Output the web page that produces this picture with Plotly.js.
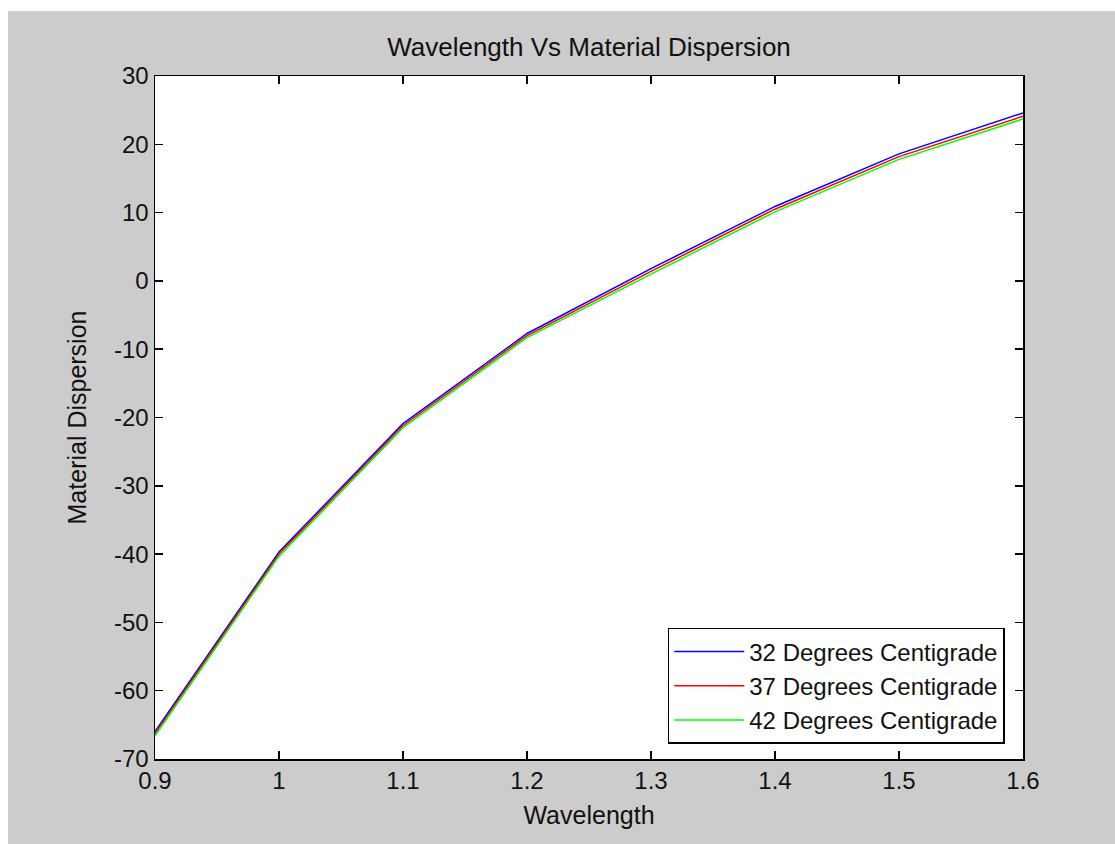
<!DOCTYPE html>
<html>
<head>
<meta charset="utf-8">
<script src="https://cdn.plot.ly/plotly-3.0.1.min.js"></script>
<style>
html,body{margin:0;padding:0;background:#ffffff;}
#chart{position:absolute;left:8px;top:11px;width:1107px;height:833px;}
</style>
</head>
<body>
<div id="chart"></div>
<script>
const wavelength = [0.9, 1.0, 1.1, 1.2, 1.3, 1.4, 1.5, 1.6];
const disp32 = [-66.0, -39.7, -20.9, -7.7, 1.8, 10.9, 18.6, 24.6];
const disp37 = [-66.3, -40.0, -21.2, -8.0, 1.4, 10.5, 18.2, 24.1];
const disp42 = [-66.6, -40.3, -21.5, -8.3, 1.0, 10.1, 17.8, 23.7];
const seriesNames = ['32 Degrees Centigrade', '37 Degrees Centigrade', '42 Degrees Centigrade'];
const xTicks = [0.9, 1.0, 1.1, 1.2, 1.3, 1.4, 1.5, 1.6];
const xTickText = ['0.9', '1', '1.1', '1.2', '1.3', '1.4', '1.5', '1.6'];
const yTicks = [-70, -60, -50, -40, -30, -20, -10, 0, 10, 20, 30];
const yTickText = ['-70', '-60', '-50', '-40', '-30', '-20', '-10', '0', '10', '20', '30'];

const font = 'Liberation Sans, Arial, sans-serif';
const traces = [
  {x: wavelength, y: disp32, name: seriesNames[0], mode: 'lines', line: {color: '#0000ff', width: 1.5}},
  {x: wavelength, y: disp37, name: seriesNames[1], mode: 'lines', line: {color: '#ff0000', width: 1.5}},
  {x: wavelength, y: disp42, name: seriesNames[2], mode: 'lines', line: {color: '#00ff00', width: 1.5}}
];
const axisCommon = {
  showgrid: false, zeroline: false, showline: true, linecolor: '#000000', linewidth: 1.5,
  mirror: 'allticks', ticks: 'inside', ticklen: 8, tickwidth: 1.5, tickcolor: '#000000',
  tickfont: {family: font, size: 24, color: '#111111'}
};
const layout = {
  paper_bgcolor: '#cccccc', plot_bgcolor: '#ffffff',
  margin: {l: 147, r: 92, t: 65, b: 85},
  title: {text: 'Wavelength Vs Material Dispersion', font: {family: font, size: 26, color: '#111111'}, x: 0.5, xref: 'paper', y: 0.957, yref: 'container', yanchor: 'middle'},
  xaxis: Object.assign({}, axisCommon, {
    range: [0.9, 1.6], tickvals: xTicks, ticktext: xTickText,
    title: {text: 'Wavelength', font: {family: font, size: 25, color: '#111111'}, standoff: 13}
  }),
  yaxis: Object.assign({}, axisCommon, {
    range: [-70, 30], tickvals: yTicks, ticktext: yTickText,
    title: {text: 'Material Dispersion', font: {family: font, size: 25, color: '#111111'}, standoff: 20}
  }),
  showlegend: true,
  legend: {x: 0.979, y: 0.022, xanchor: 'right', yanchor: 'bottom', bgcolor: '#ffffff', bordercolor: '#000000', borderwidth: 1.5,
    font: {family: font, size: 24, color: '#111111'}, tracegroupgap: 0, itemwidth: 70}
};
Plotly.newPlot('chart', traces, layout, {displayModeBar: false, staticPlot: true});
</script>
</body>
</html>
